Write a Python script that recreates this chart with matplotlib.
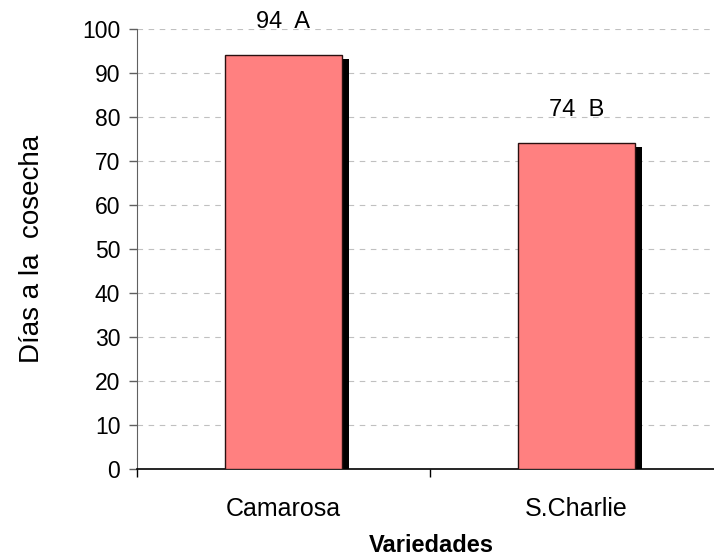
import numpy as np
import matplotlib
matplotlib.use("Agg")
import matplotlib.pyplot as plt
import matplotlib.transforms as mtransforms

variedades = ["Camarosa", "S.Charlie"]
dias = [94, 74]
letras = ["A", "B"]

plt.rcParams["font.family"] = ["Liberation Sans", "DejaVu Sans"]

fig = plt.figure(figsize=(7.14, 5.57), dpi=100)
W, H = 714, 557
# axes in pixels: left 137, bottom at y=469, top at y=28.5, width 586 (runs past right edge)
ax = fig.add_axes([137 / W, (H - 469) / H, 586 / W, 440.5 / H])

x = np.arange(len(variedades))
bw = 0.4

# drop shadow: same bars shifted right/down a few pixels
shadow_tr = mtransforms.offset_copy(ax.transData, fig=fig, x=7, y=-4, units="dots")
ax.bar(x, dias, width=bw, color="black", transform=shadow_tr, zorder=2)
ax.bar(x, dias, width=bw, color="#FF8080", edgecolor="#2a1010", linewidth=1.0, zorder=3)

for xi, v, l in zip(x, dias, letras):
    ax.text(xi, v + 7.5, f"{v}  {l}", ha="center", va="center", fontsize=17)

ax.set_xlim(-0.5, 1.5)
ax.set_ylim(0, 100)
ax.set_yticks(np.arange(0, 101, 10))
ax.yaxis.grid(True, linestyle=(0, (5, 5)), color="#c0c0c0", linewidth=0.8)
ax.set_axisbelow(True)

ax.set_xticks(x)
ax.set_xticklabels(variedades, fontsize=18)
ax.set_xticks([-0.5, 0.5, 1.5], minor=True)
ax.tick_params(axis="x", which="major", length=0, pad=20)
ax.tick_params(axis="x", which="minor", length=6, width=1, color="black", direction="out")
ax.tick_params(axis="y", labelsize=16.5, length=6, width=1, color="#606060", pad=6)

for s in ["top", "right"]:
    ax.spines[s].set_visible(False)
ax.spines["left"].set_color("#606060")
ax.spines["bottom"].set_color("black")
ax.spines["bottom"].set_linewidth(1.2)

ax.set_ylabel("Días a la  cosecha", fontsize=20, labelpad=27)
fig.text(431 / W, (H - 545) / H, "Variedades", fontsize=17, fontweight="bold",
         ha="center", va="center")

fig.savefig("out.png", dpi=100)
